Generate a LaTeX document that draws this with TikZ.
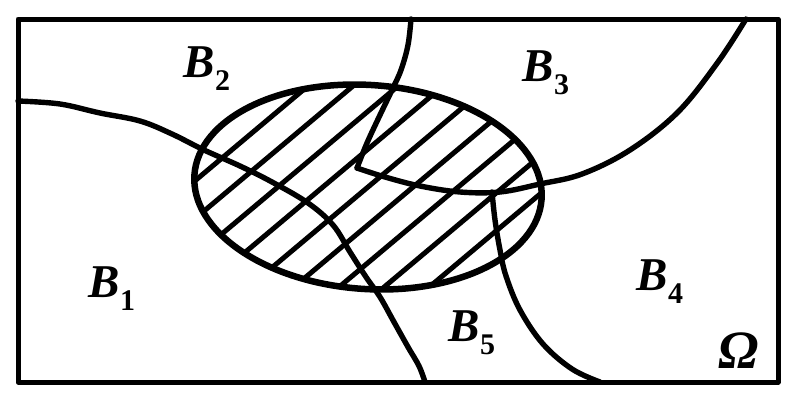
\documentclass[tikz,border=0pt]{standalone}
\usepackage{fontspec}
\setmainfont{Liberation Serif}
\usetikzlibrary{calc}
\begin{document}
\begin{tikzpicture}[x=1pt,y=-1pt,line join=round,line cap=round,
  curve/.style={line width=5.4pt},
  hatchline/.style={line width=5pt},
  rim/.style={line width=6.5pt},
  lbl/.style={font=\fontsize{47}{47}\selectfont\bfseries\itshape, inner sep=0pt}]
\useasboundingbox (0,0) rectangle (790,402);
% frame
\draw[line width=5pt] (18,19) rectangle (778,382);
% hatching inside the ellipse
\coordinate (C) at (368,187);
\begin{scope}
  \clip[rotate around={-4:(C)}] (C) ellipse [x radius=174, y radius=102];
  \foreach \i in {-12,...,12}{
    \draw[hatchline] ($(C)+(\i*0.643*29,\i*0.766*29)+(-0.766*320,0.643*320)$) -- ($(C)+(\i*0.643*29,\i*0.766*29)+(0.766*320,-0.643*320)$);
  }
\end{scope}
% ellipse rim
\draw[rim, rotate around={-4:(C)}] (C) ellipse [x radius=174, y radius=102];
% curve A : B1|B2 then B1|B5
\coordinate (A0) at (18,101);
\coordinate (A1) at (425,382);
\draw[curve] plot[smooth, tension=0.6] coordinates {(A0) (60,104) (100,113) (140,121) (172,134) (204,150) (240,166) (272,182) (308,203) (333,225) (350,252) (366,277) (380,297) (394,322) (408,347) (419,366) (A1)};
% curve T : from top edge down to junction J
\coordinate (T0) at (411,19);
\coordinate (J) at (357,168);
\draw[curve] plot[smooth, tension=0.6] coordinates {(T0) (408,45) (401,70) (392,90) (380,115) (367,143) (J)};
% curve C : junction to top-right edge
\coordinate (C1) at (746,19);
\draw[curve] plot[smooth, tension=0.6] coordinates {(J) (385,177) (420,186) (460,192) (500,192) (540,184) (582,174) (630,150) (678,112) (718,62) (C1)};
% curve D : B4|B5
\coordinate (D0) at (492,192);
\coordinate (D1) at (600,382);
\draw[curve] plot[smooth, tension=0.6] coordinates {(D0) (495,220) (500,250) (506,276) (520,310) (543,344) (572,369) (D1)};
% labels
\node[lbl] (lB1) at (112,289) {B\raisebox{-0.28em}{\fontsize{30}{30}\selectfont\upshape 1}};
\node[lbl] (lB2) at (207,69) {B\raisebox{-0.28em}{\fontsize{30}{30}\selectfont\upshape 2}};
\node[lbl] (lB3) at (546,73) {B\raisebox{-0.28em}{\fontsize{30}{30}\selectfont\upshape 3}};
\node[lbl] (lB4) at (660,282) {B\raisebox{-0.28em}{\fontsize{30}{30}\selectfont\upshape 4}};
\node[lbl] (lB5) at (472,333) {B\raisebox{-0.28em}{\fontsize{30}{30}\selectfont\upshape 5}};
\node[lbl, font=\fontsize{54}{54}\selectfont\bfseries\itshape] (om) at (739,351) {Ω};
\end{tikzpicture}
\end{document}
